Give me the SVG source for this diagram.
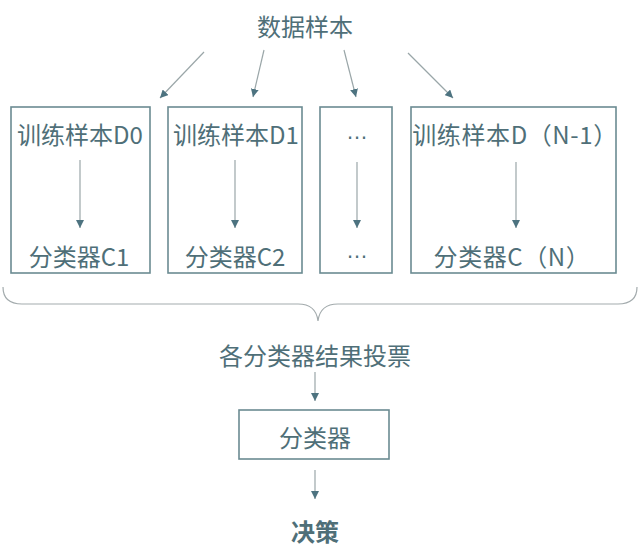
<svg xmlns="http://www.w3.org/2000/svg" width="640" height="559" viewBox="0 0 640 559">
<style>
text{font-family:"Noto Sans CJK SC","Microsoft YaHei",sans-serif;fill:#4f6f78;font-size:24px;text-anchor:middle;dominant-baseline:central}
.dots{font-family:"Liberation Sans",sans-serif;font-size:22px}
.box{fill:none;stroke:#6b8b92;stroke-width:1.6}
.ln{stroke:#9aa6a8;stroke-width:1.2;fill:none;marker-end:url(#ah)}
</style>
<defs>
<marker id="ah" viewBox="0 0 10 10" refX="10" refY="5" markerWidth="8" markerHeight="8" markerUnits="userSpaceOnUse" orient="auto">
<path d="M0,0 L10,5 L0,10 z" fill="#4d7380"/>
</marker>
</defs>
<rect width="640" height="559" fill="#ffffff"/>
<g id="n-top"><text x="305" y="25">数据样本</text></g>
<g id="n-b1"><rect class="box" x="11" y="107" width="139" height="166"/><text x="80" y="133">训练样本D0</text><text x="79" y="255">分类器C1</text></g>
<g id="n-b2"><rect class="box" x="168" y="107" width="134" height="166"/><text x="236" y="133">训练样本D1</text><text x="235" y="255">分类器C2</text></g>
<g id="n-b3"><rect class="box" x="320" y="107" width="72" height="166"/><text class="dots" x="357" y="131">…</text><text class="dots" x="357" y="250">…</text></g>
<g id="n-b4"><rect class="box" x="411" y="107" width="205" height="166"/><text x="515" y="133" letter-spacing="0.6">训练样本D（N-1）</text><text x="512" y="255" letter-spacing="0.6">分类器C（N）</text></g>
<g id="n-vote"><text x="315" y="354">各分类器结果投票</text></g>
<g id="n-clf"><rect class="box" x="239" y="410" width="150" height="49"/><text x="315" y="436">分类器</text></g>
<g id="n-dec"><text x="315" y="530" style="font-weight:bold">决策</text></g>
<g id="connectors">
<line class="ln" x1="204" y1="52" x2="160" y2="98"/>
<line class="ln" x1="264" y1="50" x2="253" y2="97"/>
<line class="ln" x1="344" y1="50" x2="356" y2="97"/>
<line class="ln" x1="408" y1="53" x2="453" y2="98"/>
<line class="ln" x1="80" y1="160" x2="80" y2="228"/>
<line class="ln" x1="235" y1="160" x2="235" y2="228"/>
<line class="ln" x1="357" y1="162" x2="357" y2="228"/>
<line class="ln" x1="516" y1="162" x2="516" y2="228"/>
<line class="ln" x1="315" y1="372" x2="315" y2="401"/>
<line class="ln" x1="315" y1="470" x2="315" y2="499"/>
<path d="M3,287 Q3,304 22,304 L298,304 Q316,304 318,321 Q320,304 338,304 L618,304 Q637,304 637,287" fill="none" stroke="#a3abad" stroke-width="1.2"/>
</g>
</svg>
